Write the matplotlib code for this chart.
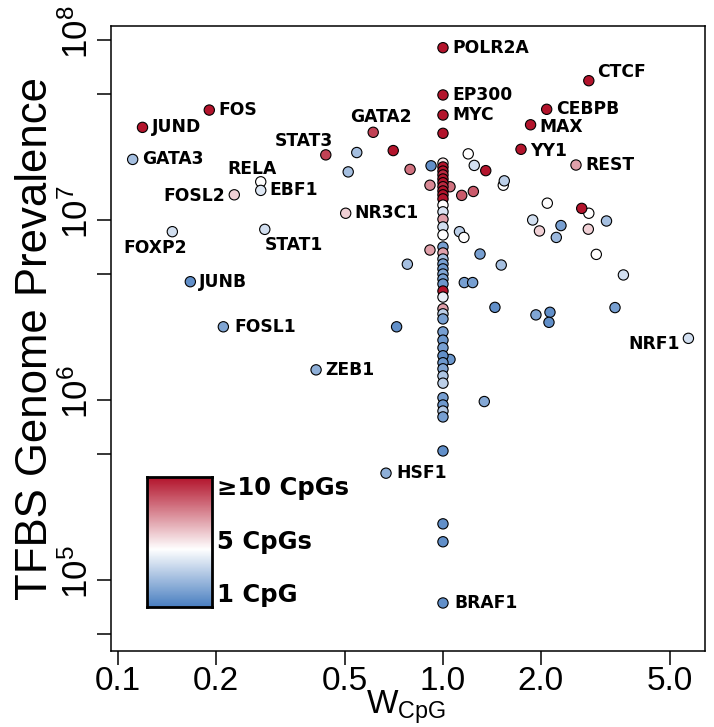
import numpy as np
import matplotlib
matplotlib.use('Agg')
import matplotlib.pyplot as plt
from matplotlib.colors import LinearSegmentedColormap, TwoSlopeNorm
from matplotlib.ticker import NullLocator

plt.rcParams['font.family'] = ['Liberation Sans', 'DejaVu Sans']
plt.rcParams['mathtext.default'] = 'regular'

# ---- data: W_CpG, genome prevalence, CpGs per motif, label ----
# scattered (unlabelled) factors
w_other = [0.543, 0.703, 0.511, 0.792, 1.0, 1.196, 1.248, 1.354, 1.533, 1.544,
           0.919, 0.912, 1.051, 1.142, 1.24, 2.094, 2.81, 2.672, 3.185, 1.888,
           1.981, 2.307, 2.232, 2.80, 1.124, 1.16, 0.912, 1.30, 2.963, 0.777,
           1.511, 3.59, 1.163, 1.234, 1.445, 1.932, 2.134, 2.119, 3.383, 0.720,
           1.34, 1.051]
prev_other = [2.37e7, 2.43e7, 1.85e7, 1.91e7, 3.03e7, 2.33e7, 2.01e7, 1.88e7, 1.56e7, 1.65e7,
              2.0e7, 1.56e7, 1.53e7, 1.37e7, 1.44e7, 1.24e7, 1.09e7, 1.16e7, 9.87e6, 1.0e7,
              8.69e6, 9.31e6, 8.0e6, 8.89e6, 8.61e6, 8.0e6, 6.81e6, 6.47e6, 6.44e6, 5.68e6,
              5.62e6, 4.95e6, 4.49e6, 4.49e6, 3.27e6, 2.97e6, 3.07e6, 2.70e6, 3.26e6, 2.55e6,
              9.8e5, 1.68e6]
cpg_other = [3, 10, 3, 8, 10, 5, 4, 10, 5, 3.5,
             1.5, 7.5, 8, 8.5, 8.5, 5, 5, 10, 3, 4,
             6, 2, 2.8, 6, 3.5, 5, 7, 2, 5, 3,
             3, 4, 2, 2, 1.5, 2.2, 1.5, 1.5, 2, 1.5,
             2.3, 1.8]

# the stack of factors with W_CpG = 1.0
prev_col = [2.07e7, 1.97e7, 1.87e7, 1.78e7, 1.69e7, 1.61e7, 1.53e7, 1.45e7, 1.38e7, 1.31e7,
            1.21e7, 1.11e7, 1.01e7, 9.15e6, 8.26e6, 7.08e6, 6.56e6, 6.07e6, 5.70e6, 5.35e6,
            5.01e6, 4.70e6, 4.41e6, 4.03e6, 3.73e6, 3.21e6, 3.01e6, 2.82e6, 2.39e6, 2.15e6,
            1.95e6, 1.76e6, 1.61e6, 1.49e6, 1.36e6, 1.24e6, 1.03e6, 9.38e5, 8.68e5, 8.05e5,
            5.21e5, 2.05e5, 1.63e5]
cpg_col = [5.5, 10, 10, 9.5, 10, 10, 9.5, 10, 10, 10,
           5, 4.2, 7, 4, 5, 2, 7, 3, 2, 1.8,
           2.2, 2, 1.8, 10, 4.5, 7, 3.5, 2, 2, 1.8,
           2, 1.5, 1.8, 2.2, 3.2, 3.5, 2, 1.8, 3.3, 2,
           1.5, 1.5, 1.5]

# labelled factors
names = ['FOS', 'JUND', 'GATA3', 'STAT3', 'GATA2', 'RELA', 'EBF1', 'FOSL2', 'NR3C1', 'FOXP2',
         'STAT1', 'JUNB', 'FOSL1', 'ZEB1', 'HSF1', 'POLR2A', 'CTCF', 'EP300', 'CEBPB', 'MYC',
         'MAX', 'YY1', 'REST', 'NRF1', 'BRAF1']
w_lab = [0.191, 0.119, 0.111, 0.436, 0.610, 0.275, 0.275, 0.228, 0.502, 0.147,
         0.283, 0.167, 0.211, 0.407, 0.668, 1.0, 2.81, 1.0, 2.085, 1.0,
         1.86, 1.738, 2.566, 5.69, 1.0]
prev_lab = [4.08e7, 3.27e7, 2.17e7, 2.30e7, 3.07e7, 1.63e7, 1.46e7, 1.38e7, 1.09e7, 8.61e6,
            8.87e6, 4.54e6, 2.55e6, 1.47e6, 3.92e5, 9.06e7, 5.94e7, 4.95e7, 4.12e7, 3.83e7,
            3.38e7, 2.47e7, 2.02e7, 2.20e6, 7.45e4]
cpg_lab = [10, 10, 3, 9, 9, 5, 4.3, 6, 6, 4,
           4, 1.5, 2.2, 2.5, 2.5, 10, 10, 10, 10, 10,
           10, 10, 7, 4, 1.5]

# label placement (pixels from the point) and alignment
label_pos = {'CTCF': (8, 9, 'left'), 'MAX': (9, -2.5, 'left'), 'YY1': (9, -2, 'left'),
             'FOSL2': (-9, -1.5, 'right'), 'NRF1': (-9, -6, 'right'),
             'STAT3': (7, 14, 'right'), 'GATA2': (8, 15, 'center'),
             'RELA': (-9, 12.5, 'center'), 'STAT1': (0, -16, 'left'),
             'FOXP2': (15, -16, 'right'), 'FOSL1': (11, 0, 'left'),
             'BRAF1': (11, 0, 'left'), 'HSF1': (10, 0, 'left')}

xticks = [0.1, 0.2, 0.5, 1.0, 2.0, 5.0]
xtick_labels = ['0.1', '0.2', '0.5', '1.0', '2.0', '5.0']
yticks = [5e4, 1e5, 5e5, 1e6, 5e6, 1e7, 5e7, 1e8]
ytick_labels = ['', r'$\;\,10^{5}$', '', r'$\;\,10^{6}$', '', r'$\;\,10^{7}$', '', r'$\;\,10^{8}$']

cmap = LinearSegmentedColormap.from_list('cpg', ['#4a7fc1', '#ffffff', '#b3142c'])
norm = TwoSlopeNorm(vmin=1, vcenter=5, vmax=10)

fig = plt.figure(figsize=(7.14, 7.27), dpi=100)
ax = fig.add_axes([111/714, 1 - 651/727, (705 - 111)/714, (651 - 26)/727])

pt = dict(s=55, cmap=cmap, norm=norm, edgecolors='black', linewidths=0.8, zorder=3)
ax.scatter(w_other, prev_other, c=cpg_other, **pt)
ax.scatter([1.0] * len(prev_col), prev_col, c=cpg_col, **pt)
ax.scatter(w_lab, prev_lab, c=cpg_lab, **pt)

for name, xv, yv in zip(names, w_lab, prev_lab):
    dx, dy, ha = label_pos.get(name, (9, 0, 'left'))
    ax.annotate(name, (xv, yv), xytext=(dx, dy), textcoords='offset pixels',
                ha=ha, va='center', fontsize=12.3, fontweight='bold',
                family='DejaVu Sans', zorder=4)

ax.set_xscale('log')
ax.set_yscale('log')
ax.set_xlim(0.0952, 6.40)
ax.set_ylim(4.03e4, 1.196e8)
ax.set_xticks(xticks)
ax.set_xticklabels(xtick_labels)
ax.set_yticks(yticks)
ax.set_yticklabels(ytick_labels, rotation=90, va='center')
ax.xaxis.set_minor_locator(NullLocator())
ax.yaxis.set_minor_locator(NullLocator())
ax.tick_params(axis='both', direction='out', length=10, width=1.1, labelsize=25)
ax.tick_params(axis='x', pad=1, labelsize=24)
ax.tick_params(axis='y', pad=2)
for sp in ax.spines.values():
    sp.set_linewidth(1.1)

# x label sits just under the tick labels, as in the original
fig.text(406/714, 1/727, '$W_{CpG}$', fontsize=24, ha='center', va='bottom')
ax.set_ylabel('TFBS Genome Prevalence', fontsize=31.5, labelpad=3)

# colour key
cax = fig.add_axes([147/714, 1 - 607/727, 65/714, 130/727])
grad = np.linspace(1, 10, 256).reshape(-1, 1)
cax.imshow(grad, aspect='auto', origin='lower', cmap=cmap, norm=norm)
cax.set_xticks([])
cax.set_yticks([])
for sp in cax.spines.values():
    sp.set_linewidth(2)
key_text = ['\u226510 CpGs', '5 CpGs', '1 CpG']
key_pos = [0.915, 0.5, 0.09]
for t, yp in zip(key_text, key_pos):
    cax.text(1.08, yp, t, transform=cax.transAxes, ha='left', va='center',
             fontsize=17.5, fontweight='bold', family='DejaVu Sans')

fig.savefig('out.png', dpi=100)
